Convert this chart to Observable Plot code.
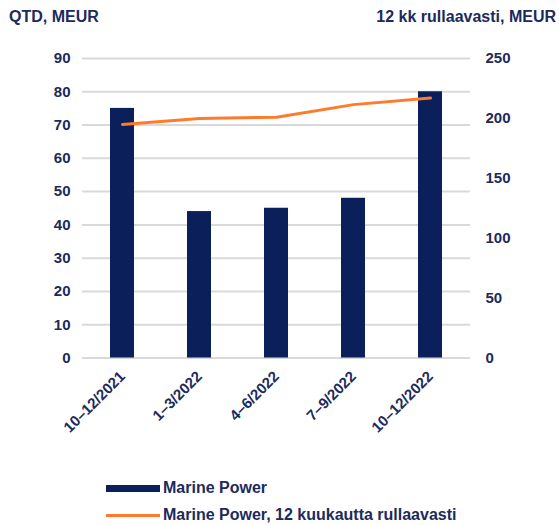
<!DOCTYPE html>
<html>
<head>
<meta charset="utf-8">
<script src="https://cdn.jsdelivr.net/npm/d3@7"></script>
<script src="https://cdn.jsdelivr.net/npm/@observablehq/plot@0.6"></script>
<style>
  html, body { margin: 0; padding: 0; background: #fff; }
  #wrap { position: relative; width: 559px; height: 525px; font-family: "Liberation Sans", Arial, sans-serif; font-weight: bold; color: #1c2a5c; }
  .ttl { position: absolute; font-size: 16px; line-height: 18px; white-space: nowrap; }
  .leg { position: absolute; font-size: 16px; line-height: 18px; white-space: nowrap; }
  .sw { position: absolute; }
  #chart { position: absolute; left: 0; top: 0; }
</style>
</head>
<body>
<div id="wrap">
  <div id="chart"></div>
  <div class="ttl" style="left:9px; top:8px;">QTD, MEUR</div>
  <div class="ttl" style="right:3px; top:8px;">12 kk rullaavasti, MEUR</div>
  <div class="sw" style="left:106px; top:485px; width:54px; height:7px; background:#0b1f5a;"></div>
  <div class="leg" style="left:163px; top:479px;">Marine Power</div>
  <div class="sw" style="left:106px; top:514px; width:54px; height:3px; background:#ff7b2b;"></div>
  <div class="leg" style="left:163px; top:506px;">Marine Power, 12 kuukautta rullaavasti</div>
</div>
<script>
const categories = ["10–12/2021", "1–3/2022", "4–6/2022", "7–9/2022", "10–12/2022"];
const quarterly = [75, 44, 45, 48, 80];
const rolling12 = [195, 200, 201, 211.5, 217];
const leftTicks = [0, 10, 20, 30, 40, 50, 60, 70, 80, 90];
const rightTicks = [0, 50, 100, 150, 200, 250];
const leftMax = 90, rightMax = 250;

const toLeft = v => v * leftMax / rightMax;
const bars = categories.map((c, i) => ({cat: c, v: quarterly[i]}));
const line = categories.map((c, i) => ({cat: c, v: toLeft(rolling12[i])}));

const chart = Plot.plot({
  width: 559,
  height: 460,
  marginLeft: 82,
  marginRight: 89,
  marginTop: 58,
  marginBottom: 102.5,
  style: {fontFamily: "'Liberation Sans', Arial, sans-serif", fontSize: "15px", fontWeight: "bold", color: "#1c2a5c", background: "transparent"},
  x: {type: "band", domain: categories, paddingInner: 0.69, paddingOuter: 0.345, label: null},
  y: {domain: [0, leftMax], label: null},
  marks: [
    Plot.gridY(leftTicks, {stroke: "#d9d9d9", strokeOpacity: 1, strokeWidth: 2}),
    Plot.barY(bars, {x: "cat", y: "v", fill: "#0b1f5a"}),
    Plot.line(line, {x: "cat", y: "v", stroke: "#ff7b2b", strokeWidth: 3, curve: "linear"}),
    Plot.axisY({anchor: "left", ticks: leftTicks, tickSize: 0, tickPadding: 12, label: null}),
    Plot.axisY({anchor: "right", ticks: rightTicks.map(toLeft), tickFormat: d => String(Math.round(d * rightMax / leftMax)), tickSize: 0, tickPadding: 15, label: null, textAnchor: "start"}),
    Plot.axisX({anchor: "bottom", tickSize: 0, tickPadding: 16, tickRotate: -45, label: null})
  ]
});
document.getElementById("chart").appendChild(chart);
</script>
</body>
</html>
